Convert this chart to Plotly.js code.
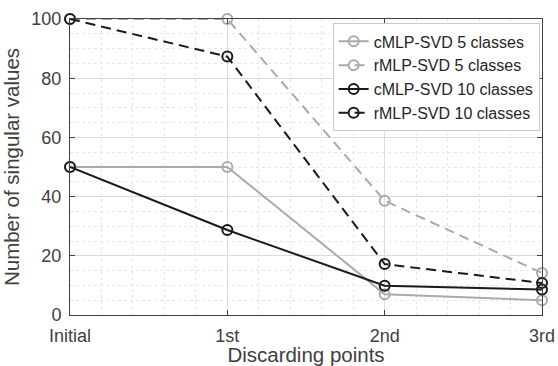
<!DOCTYPE html>
<html><head><meta charset="utf-8">
<script src="https://cdn.plot.ly/plotly-3.0.1.min.js"></script>
<style>html,body{margin:0;padding:0;background:#fff}#c{width:558px;height:366px}</style>
</head><body><div id="c"></div>
<script>
const categories = ["Initial", "1st", "2nd", "3rd"];
const seriesNames = ["cMLP-SVD 5 classes", "rMLP-SVD 5 classes", "cMLP-SVD 10 classes", "rMLP-SVD 10 classes"];
const cMLP5 = [50, 50, 7, 5];
const rMLP5 = [100, 100, 38.6, 14.2];
const cMLP10 = [50, 28.7, 9.9, 8.6];
const rMLP10 = [100, 87.3, 17.2, 10.8];
const yTicks = [0, 20, 40, 60, 80, 100];

const xIdx = categories.map((_, i) => i);
const gray = "#aaaaaa", dark = "#1a1a1a";
const FAM = "Liberation Sans, Arial, sans-serif";
function tr(name, y, color, dash) {
  return {x: xIdx, y: y, name: name, type: "scatter", mode: "lines+markers",
    line: {color: color, width: 2, dash: dash},
    marker: {symbol: "circle-open", size: 10, color: color, line: {width: 2, color: color}},
    cliponaxis: false};
}
const data = [
  tr(seriesNames[0], cMLP5, gray, "solid"),
  tr(seriesNames[1], rMLP5, gray, "10px,6px"),
  tr(seriesNames[2], cMLP10, dark, "solid"),
  tr(seriesNames[3], rMLP10, dark, "10px,6px")
];
const axFont = {family: FAM, size: 18, color: "#404040"};
const layout = {
  width: 558, height: 366,
  margin: {l: 70, r: 16, t: 19, b: 51},
  paper_bgcolor: "#fff", plot_bgcolor: "#fff",
  font: axFont,
  showlegend: true,
  legend: {x: 0.995, y: 0.985, xanchor: "right", yanchor: "top", bgcolor: "#fff",
    bordercolor: "#c8c8c8", borderwidth: 1, font: {family: FAM, size: 16, color: "#262626"},
    itemwidth: 30, tracegroupgap: 0},
  xaxis: {range: [0, 3], tickvals: xIdx, ticktext: categories, showgrid: true, gridcolor: "#dcdcdc", gridwidth: 1,
    zeroline: false, showline: true, linecolor: "#404040", linewidth: 1, mirror: "ticks",
    ticks: "inside", ticklen: 5, tickcolor: "#404040", tickfont: axFont, ticklabelstandoff: 4,
    minor: {dtick: 0.2, showgrid: true, gridcolor: "#e6e6e6", griddash: "dot", gridwidth: 1, ticks: ""},
    title: {text: "Discarding points", font: {family: FAM, size: 20.5, color: "#404040"}, standoff: 4}},
  yaxis: {range: [0, 100], tickvals: yTicks, showgrid: true, gridcolor: "#dcdcdc", gridwidth: 1,
    zeroline: false, showline: true, linecolor: "#404040", linewidth: 1, mirror: "ticks",
    ticks: "inside", ticklen: 5, tickcolor: "#404040", tickfont: axFont, ticklabelstandoff: 4,
    minor: {dtick: 5, showgrid: true, gridcolor: "#e6e6e6", griddash: "dot", gridwidth: 1, ticks: ""},
    title: {text: "Number of singular values", font: {family: FAM, size: 20.5, color: "#404040"}, standoff: 8}}
};
Plotly.newPlot("c", data, layout, {displayModeBar: false, staticPlot: true});
</script></body></html>
